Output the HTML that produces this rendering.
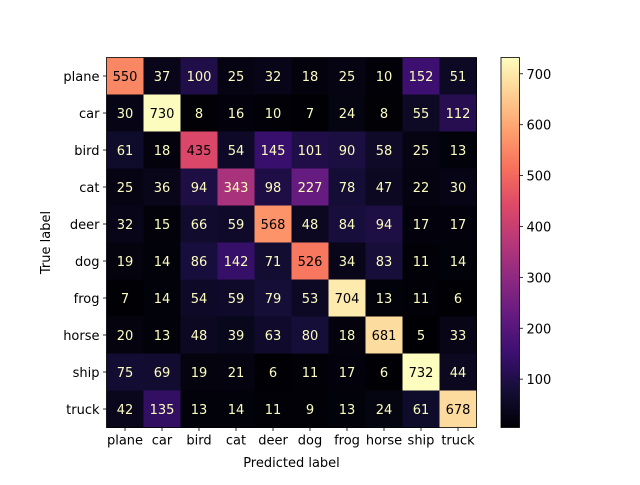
<!DOCTYPE html>
<html><head><meta charset="utf-8"><style>
body{margin:0;background:#fff;font-family:"Liberation Sans","DejaVu Sans",sans-serif}
svg text{font-family:"DejaVu Sans","Liberation Sans",sans-serif;font-size:13px}
</style></head><body>
<svg id="c" width="640" height="480" xmlns="http://www.w3.org/2000/svg">
<defs><linearGradient id="mg" x1="0" y1="1" x2="0" y2="0">
<stop offset="0" stop-color="#000004"/><stop offset="0.1" stop-color="#140e36"/><stop offset="0.2" stop-color="#3b0f70"/><stop offset="0.3" stop-color="#641a80"/><stop offset="0.4" stop-color="#8c2981"/><stop offset="0.5" stop-color="#b73779"/><stop offset="0.6" stop-color="#de4968"/><stop offset="0.7" stop-color="#f7705c"/><stop offset="0.8" stop-color="#fe9f6d"/><stop offset="0.9" stop-color="#fecf92"/><stop offset="1" stop-color="#fcfdbf"/>
</linearGradient></defs>
</svg>
<script>
const classes=["plane","car","bird","cat","deer","dog","frog","horse","ship","truck"];
const row0=[550,37,100,25,32,18,25,10,152,51];
const row1=[30,730,8,16,10,7,24,8,55,112];
const row2=[61,18,435,54,145,101,90,58,25,13];
const row3=[25,36,94,343,98,227,78,47,22,30];
const row4=[32,15,66,59,568,48,84,94,17,17];
const row5=[19,14,86,142,71,526,34,83,11,14];
const row6=[7,14,54,59,79,53,704,13,11,6];
const row7=[20,13,48,39,63,80,18,681,5,33];
const row8=[75,69,19,21,6,11,17,6,732,44];
const row9=[42,135,13,14,11,9,13,24,61,678];
const colorbarTicks=[100,200,300,400,500,600,700];
const matrix=[row0,row1,row2,row3,row4,row5,row6,row7,row8,row9];

const NS="http://www.w3.org/2000/svg",svg=document.getElementById("c");
const L=106.5,T=57.5,W=370,H=370,n=classes.length,cw=W/n,ch=H/n;
const all=matrix.flat(),vmin=Math.min(...all),vmax=Math.max(...all);
const stops=["#000004","#140e36","#3b0f70","#641a80","#8c2981","#b73779","#de4968","#f7705c","#fe9f6d","#fecf92","#fcfdbf"];
function hex(h){return [1,3,5].map(i=>parseInt(h.substr(i,2),16));}
function magma(t){t=Math.max(0,Math.min(1,t));const p=t*10,i=Math.min(9,Math.floor(p)),f=p-i;const a=hex(stops[i]),b=hex(stops[i+1]);return "rgb("+a.map((v,k)=>Math.round(v+(b[k]-v)*f)).join(",")+")";}
const xS=j=>L+j*cw, yS=i=>T+i*ch;
function el(tag,attrs,txt){const e=document.createElementNS(NS,tag);for(const k in attrs)e.setAttribute(k,attrs[k]);if(txt!==undefined)e.textContent=txt;svg.appendChild(e);return e;}
const thr=(vmin+vmax)/2;
matrix.forEach((row,i)=>row.forEach((v,j)=>{
  const r=el("rect",{x:xS(j),y:yS(i),width:cw+0.5,height:ch+0.5,fill:magma((v-vmin)/(vmax-vmin))});
  
  
  const t=el("text",{x:xS(j)+cw/2,y:yS(i)+ch/2+5,"text-anchor":"middle",fill:v>thr?"#000004":"#fcfdbf"},v);
  
  
}));
const fr=el("rect",{x:L,y:T,width:W,height:H,fill:"none",stroke:"#000","stroke-width":0.8});


classes.forEach((c,k)=>{
  el("line",{x1:xS(k)+cw/2,x2:xS(k)+cw/2,y1:T+H,y2:T+H+3.5,stroke:"#000","stroke-width":0.8});
  const tx=el("text",{x:xS(k)+cw/2,y:T+H+17,"text-anchor":"middle"},c);
  
  
  el("line",{x1:L-3.5,x2:L,y1:yS(k)+ch/2,y2:yS(k)+ch/2,stroke:"#000","stroke-width":0.8});
  const ty=el("text",{x:L-7,y:yS(k)+ch/2+5,"text-anchor":"end"},c);
  
  
});
const xl=el("text",{x:L+W/2,y:467,"text-anchor":"middle"},"Predicted label");


const yl=el("text",{x:50,y:T+H/2,"text-anchor":"middle",transform:"rotate(-90 50 "+(T+H/2)+")"},"True label");


const CX=501,CW=18.5;
const cb=el("rect",{x:CX,y:T,width:CW,height:H,fill:"url(#mg)",stroke:"#000","stroke-width":0.8});


colorbarTicks.forEach(v=>{
  const y=T+H-(v-vmin)/(vmax-vmin)*H;
  el("line",{x1:CX+CW,x2:CX+CW+3.5,y1:y,y2:y,stroke:"#000","stroke-width":0.8});
  const t=el("text",{x:CX+CW+7,y:y+5},v);
  
  
});
</script>
</body></html>
